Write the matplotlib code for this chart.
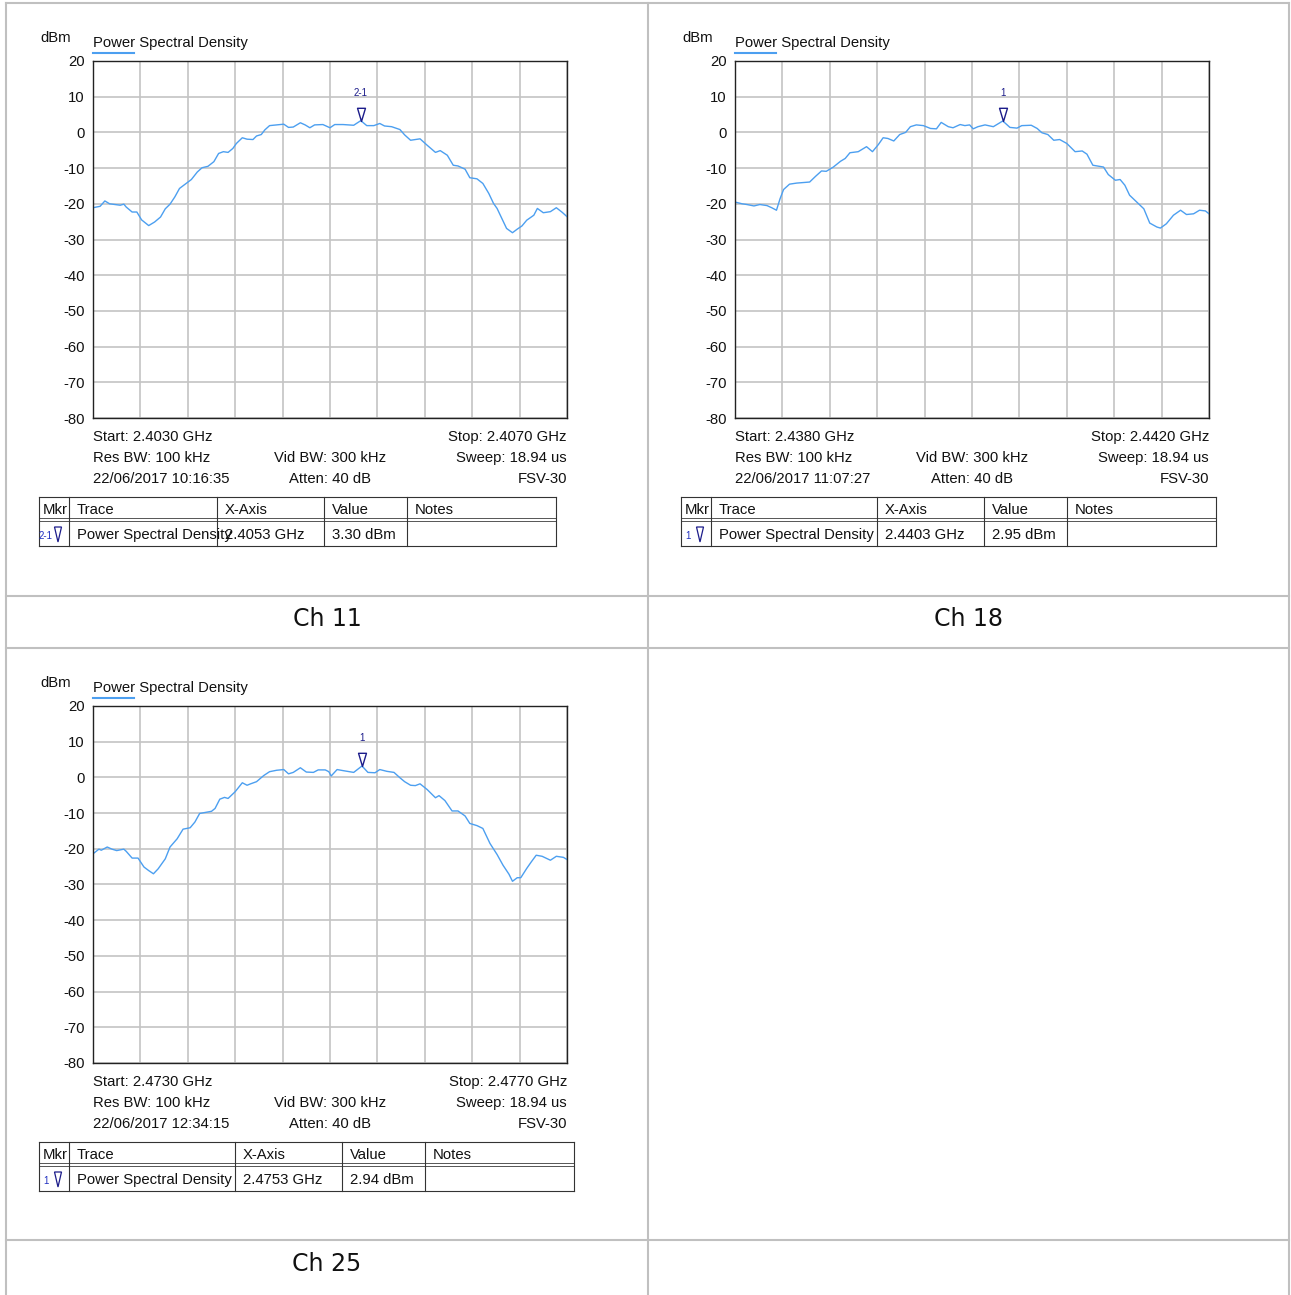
import numpy as np
import matplotlib.pyplot as plt
from matplotlib.lines import Line2D
from matplotlib.patches import Polygon
from matplotlib.path import Path

W, H = 1291, 1295

# captions and analyzer settings of the three screenshots
channels = ["Ch 11", "Ch 18", "Ch 25"]
start_mhz = [2403.0, 2438.0, 2473.0]
span_mhz = 4.0
start_txt = ["Start: 2.4030 GHz", "Start: 2.4380 GHz", "Start: 2.4730 GHz"]
stop_txt = ["Stop: 2.4070 GHz", "Stop: 2.4420 GHz", "Stop: 2.4770 GHz"]
timestamps = ["22/06/2017 10:16:35", "22/06/2017 11:07:27", "22/06/2017 12:34:15"]
res_bw = "Res BW: 100 kHz"
vid_bw = "Vid BW: 300 kHz"
sweep = "Sweep: 18.94 us"
atten = "Atten: 40 dB"
device = "FSV-30"
marker_names = ["2-1", "1", "1"]
marker_freq = ["2.4053 GHz", "2.4403 GHz", "2.4753 GHz"]
marker_val = ["3.30 dBm", "2.95 dBm", "2.94 dBm"]
table_head = ["Mkr", "Trace", "X-Axis", "Value", "Notes"]
yticks = [20, 10, 0, -10, -20, -30, -40, -50, -60, -70, -80]

# traces: MHz above start frequency, level in dBm
ch11_df = [0.00, 0.06, 0.10, 0.14, 0.23, 0.26, 0.28, 0.33, 0.37, 0.41, 0.47, 0.52,
           0.57, 0.61, 0.65, 0.69, 0.73, 0.79, 0.83, 0.88, 0.92, 0.97, 1.02, 1.06,
           1.10, 1.14, 1.18, 1.21, 1.26, 1.30, 1.35, 1.38, 1.42, 1.45, 1.49, 1.55,
           1.61, 1.65, 1.69, 1.75, 1.79, 1.83, 1.87, 1.94, 2.00, 2.04, 2.11, 2.20,
           2.26, 2.31, 2.37, 2.42, 2.46, 2.52, 2.59, 2.63, 2.68, 2.72, 2.76, 2.82,
           2.89, 2.93, 2.99, 3.04, 3.08, 3.14, 3.18, 3.24, 3.29, 3.34, 3.38, 3.41,
           3.45, 3.49, 3.54, 3.58, 3.62, 3.66, 3.72, 3.75, 3.80, 3.86, 3.91, 3.96, 4.00]
ch11_dbm = [-21.1, -20.7, -19.2, -20.0, -20.4, -20.1, -20.9, -22.3, -22.3, -24.5, -26.1, -25.1,
            -23.7, -21.4, -20.1, -18.1, -15.7, -14.2, -13.2, -11.1, -9.9, -9.5, -8.2, -5.9,
            -5.4, -5.6, -4.5, -3.1, -1.5, -1.9, -2.0, -1.0, -0.6, 0.7, 1.9, 2.1,
            2.3, 1.4, 1.5, 2.7, 2.1, 1.3, 2.1, 2.2, 1.3, 2.2, 2.2, 2.0,
            3.3, 1.9, 1.9, 2.5, 1.8, 1.6, 0.8, -0.7, -2.2, -2.0, -1.8, -3.6,
            -5.6, -5.1, -6.4, -9.2, -9.4, -10.3, -12.7, -13.0, -14.3, -17.1, -19.9, -21.3,
            -24.1, -26.9, -28.1, -27.1, -26.2, -24.6, -23.2, -21.3, -22.5, -22.2, -21.1, -22.4, -23.6]

ch18_df = [0.00, 0.06, 0.10, 0.16, 0.21, 0.27, 0.31, 0.35, 0.38, 0.41, 0.46, 0.52,
           0.63, 0.68, 0.73, 0.77, 0.83, 0.89, 0.93, 0.97, 1.04, 1.11, 1.16, 1.21,
           1.25, 1.29, 1.34, 1.39, 1.44, 1.48, 1.53, 1.59, 1.65, 1.70, 1.74, 1.80,
           1.84, 1.90, 1.94, 1.98, 2.01, 2.05, 2.11, 2.18, 2.26, 2.32, 2.38, 2.42,
           2.50, 2.55, 2.59, 2.64, 2.69, 2.74, 2.80, 2.87, 2.93, 2.97, 3.02, 3.11,
           3.15, 3.21, 3.25, 3.29, 3.33, 3.39, 3.45, 3.50, 3.56, 3.59, 3.64, 3.70,
           3.76, 3.81, 3.87, 3.92, 3.97, 4.00]
ch18_dbm = [-19.5, -20.0, -20.2, -20.6, -20.2, -20.5, -21.1, -21.8, -18.6, -16.0, -14.5, -14.2,
            -13.9, -12.3, -10.8, -10.9, -9.7, -8.1, -7.3, -5.7, -5.4, -4.0, -5.4, -3.4,
            -1.5, -1.7, -2.4, -0.6, 0.0, 1.6, 2.1, 1.9, 1.1, 1.0, 2.8, 1.6,
            1.3, 2.2, 1.9, 2.1, 1.0, 1.6, 2.1, 1.6, 3.2, 1.4, 1.2, 1.9,
            2.0, 1.1, -0.1, -0.6, -2.2, -2.0, -3.1, -5.4, -5.2, -6.1, -9.2, -9.7,
            -11.8, -13.4, -13.2, -14.8, -17.6, -19.5, -21.4, -25.4, -26.5, -26.8, -25.6, -23.2,
            -21.8, -23.0, -22.8, -21.8, -22.0, -22.8]

ch25_df = [0.00, 0.05, 0.07, 0.12, 0.16, 0.20, 0.26, 0.28, 0.33, 0.38, 0.43, 0.47,
           0.51, 0.55, 0.61, 0.65, 0.71, 0.76, 0.82, 0.86, 0.90, 0.95, 1.00, 1.03,
           1.07, 1.11, 1.14, 1.20, 1.26, 1.30, 1.33, 1.38, 1.44, 1.49, 1.55, 1.61,
           1.65, 1.69, 1.75, 1.80, 1.86, 1.90, 1.96, 1.99, 2.01, 2.06, 2.11, 2.20,
           2.27, 2.32, 2.38, 2.42, 2.48, 2.54, 2.59, 2.63, 2.68, 2.72, 2.76, 2.82,
           2.89, 2.92, 2.97, 3.03, 3.08, 3.14, 3.18, 3.24, 3.29, 3.35, 3.41, 3.46,
           3.51, 3.54, 3.58, 3.61, 3.66, 3.70, 3.74, 3.79, 3.86, 3.91, 3.97, 4.00]
ch25_dbm = [-21.4, -20.1, -20.4, -19.5, -20.1, -20.5, -20.1, -20.7, -22.6, -22.6, -25.1, -26.1,
            -27.0, -25.6, -22.8, -19.5, -17.2, -14.5, -14.1, -12.5, -10.1, -9.8, -9.5, -8.7,
            -6.1, -5.6, -5.9, -4.0, -1.5, -2.2, -1.8, -1.2, 0.5, 1.6, 2.0, 2.2,
            1.0, 1.4, 2.7, 1.5, 1.4, 2.1, 2.1, 1.6, 0.4, 2.2, 1.9, 1.4,
            3.2, 1.4, 1.3, 2.2, 1.7, 1.4, -0.1, -1.2, -2.2, -2.3, -1.8, -3.4,
            -5.7, -5.1, -6.5, -9.4, -9.4, -10.8, -12.9, -13.5, -14.3, -18.5, -21.6, -24.6,
            -27.1, -29.1, -28.1, -28.1, -25.5, -23.6, -21.8, -22.1, -23.2, -22.1, -22.4, -23.0]

trace_df = [ch11_df, ch18_df, ch25_df]
trace_dbm = [ch11_dbm, ch18_dbm, ch25_dbm]

# colours
trace_col = "#4c9ff0"
mkr_col = "#1c1c8a"
cell_col = "#c0c0c0"
txt_font = ["Liberation Sans", "DejaVu Sans"]
fs = 10.7

fig = plt.figure(figsize=(W / 100, H / 100), dpi=100)


def fxy(x, y):
    return x / W, 1 - y / H


def hline(x0, x1, y, col, lw):
    fig.add_artist(Line2D([x0 / W, x1 / W], [1 - y / H, 1 - y / H], color=col, lw=lw))


def vline(x, y0, y1, col, lw):
    fig.add_artist(Line2D([x / W, x / W], [1 - y0 / H, 1 - y1 / H], color=col, lw=lw))


def ftext(x, y, s, ha="left", size=fs, color="#111111", family=txt_font):
    # small downward nudge so the text sits like the report's baseline
    y = y + 1.3
    fig.text(x / W, 1 - y / H, s, ha=ha, va="center", fontsize=size, color=color, family=family)


# marker shape: narrow downward triangle with the tip at the data point
tri = Path([(-0.3, 1.0), (0.3, 1.0), (0.0, 0.0), (-0.3, 1.0)],
           [Path.MOVETO, Path.LINETO, Path.LINETO, Path.CLOSEPOLY])

offsets = [(0, 0), (642, 0), (0, 645)]
table_cols = [[39, 69, 217, 324, 407, 556],
              [39, 69, 235, 342, 425, 574],
              [39, 69, 235, 342, 425, 574]]

for i in range(3):
    ox, oy = offsets[i]
    l, t, r, b = 93 + ox, 61 + oy, 567 + ox, 418 + oy
    ax = fig.add_axes([l / W, 1 - b / H, (r - l) / W, (b - t) / H])
    f0 = start_mhz[i]
    x = f0 + np.array(trace_df[i])
    y = np.array(trace_dbm[i])
    ax.plot(x, y, color=trace_col, lw=1.0, zorder=3)

    k = np.argmax(y)
    ax.plot(x[k], y[k], marker=tri, ms=19, mfc="none", mec=mkr_col, mew=1.0, zorder=4)
    ax.annotate(marker_names[i], (x[k], y[k]), xytext=(0, 20), textcoords="offset points",
                ha="center", va="center", fontsize=7, color=mkr_col, family=txt_font)

    ax.set_xlim(f0, f0 + span_mhz)
    ax.set_ylim(-80, 20)
    ax.set_xticks(np.linspace(f0, f0 + span_mhz, 11))
    ax.set_xticklabels([])
    ax.set_yticks(yticks)
    ax.set_yticklabels([str(v) for v in yticks], family=txt_font)
    ax.tick_params(length=0, labelsize=fs, pad=6, labelcolor="#111111")
    ax.grid(True, color="#c4c4c4", lw=1.2, zorder=1)
    for s in ax.spines.values():
        s.set_color("#222222")
        s.set_linewidth(1.0)
        s.set_zorder(5)

    # header above the plot
    ftext(40 + ox, 37 + oy, "dBm")
    ftext(93 + ox, 42 + oy, "Power Spectral Density")
    hline(93 + ox, 134 + ox, 53 + oy, trace_col, 1.5)

    # settings block below the plot
    ftext(93 + ox, 436 + oy, start_txt[i])
    ftext(567 + ox, 436 + oy, stop_txt[i], ha="right")
    ftext(93 + ox, 457 + oy, res_bw)
    ftext(330 + ox, 457 + oy, vid_bw, ha="center")
    ftext(567 + ox, 457 + oy, sweep, ha="right")
    ftext(93 + ox, 478 + oy, timestamps[i])
    ftext(330 + ox, 478 + oy, atten, ha="center")
    ftext(567 + ox, 478 + oy, device, ha="right")

    # marker table
    cols = [c + ox for c in table_cols[i]]
    tt, tb = 497 + oy, 546 + oy
    hline(cols[0], cols[-1], tt, "#333333", 0.8)
    hline(cols[0], cols[-1], tb, "#333333", 0.8)
    hline(cols[0], cols[-1], 518 + oy, "#555555", 0.7)
    hline(cols[0], cols[-1], 521 + oy, "#555555", 0.7)
    for c in cols:
        vline(c, tt, tb, "#333333", 0.8)
    ftext(cols[0] + 4, 509 + oy, table_head[0])
    for j in range(1, 5):
        ftext(cols[j] + 8, 509 + oy, table_head[j])
    ftext(cols[1] + 8, 534 + oy, "Power Spectral Density")
    ftext(cols[2] + 8, 534 + oy, marker_freq[i])
    ftext(cols[3] + 8, 534 + oy, marker_val[i])
    ftext(cols[0] + 7, 535 + oy, marker_names[i], ha="center", size=7, color="#2030c0")
    cx = cols[0] + 19
    pts = [fxy(cx - 3.5, 527 + oy), fxy(cx + 3.5, 527 + oy), fxy(cx, 542 + oy)]
    fig.add_artist(Polygon(pts, closed=True, fill=False, edgecolor=mkr_col, lw=0.9))

    # caption row
    ftext(327 + ox, 618 + oy, channels[i], ha="center", size=17, color="#111111",
          family=["DejaVu Sans"])

# page grid of the report
for xv in [6, 648, 1289]:
    vline(xv, 3, H, cell_col, 1.5)
for yv in [3, 596, 648, 1240]:
    hline(6, 1289, yv, cell_col, 1.5)

fig.savefig("out.png", dpi=100)
